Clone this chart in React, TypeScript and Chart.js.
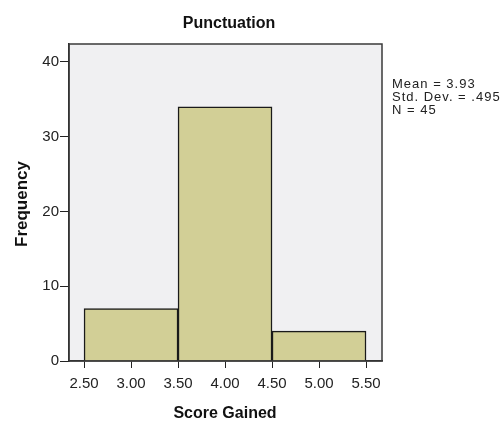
import React, { useEffect, useRef } from "react";
import { Chart, registerables } from "chart.js";

Chart.register(...registerables);

const binCenters = [3.0, 4.0, 5.0];
const frequencies = [7, 34, 4];
const xTickValues = [2.5, 3.0, 3.5, 4.0, 4.5, 5.0, 5.5];
const yTickValues = [0, 10, 20, 30, 40];
const statsLines = ["Mean = 3.93", "Std. Dev. = .495", "N = 45"];
const chartTitle = "Punctuation";
const xTitle = "Score Gained";
const yTitle = "Frequency";

const FONT = "'Liberation Sans', Arial, sans-serif";
const X_MIN = 2.34;
const X_MAX = 5.67;

const decorPlugin = {
  id: "decor",
  beforeDraw(chart: any) {
    const { ctx, chartArea: a } = chart;
    ctx.save();
    ctx.fillStyle = "#F0F0F2";
    ctx.fillRect(a.left, a.top, a.right - a.left, a.bottom - a.top);
    ctx.restore();
  },
  afterDraw(chart: any) {
    const { ctx, chartArea: a } = chart;
    ctx.save();
    ctx.strokeStyle = "#3a3a3a";
    ctx.lineWidth = 1.5;
    ctx.strokeRect(a.left, a.top, a.right - a.left, a.bottom - a.top);

    ctx.fillStyle = "#111";
    ctx.font = `bold 16px ${FONT}`;
    ctx.textAlign = "center";
    ctx.textBaseline = "middle";
    ctx.fillText(chartTitle, 229, 24);
    ctx.fillText(xTitle, 225, 414);

    ctx.save();
    ctx.font = `bold 17px ${FONT}`;
    ctx.translate(22, 204);
    ctx.rotate(-Math.PI / 2);
    ctx.fillText(yTitle, 0, 0);
    ctx.restore();

    ctx.font = `13px ${FONT}`;
    ctx.textAlign = "left";
    ctx.fillStyle = "#222";
    try {
      (ctx as any).letterSpacing = "1px";
    } catch (e) {}
    statsLines.forEach((s, i) => ctx.fillText(s, 392, 84 + i * 13));
    ctx.restore();
  },
};

export default function App() {
  const ref = useRef<HTMLCanvasElement>(null);
  useEffect(() => {
    if (!ref.current) return;
    const chart = new Chart(ref.current, {
      type: "bar",
      data: {
        datasets: [
          {
            data: binCenters.map((x, i) => ({ x, y: frequencies[i] })),
            backgroundColor: "#D2CF96",
            borderColor: "#1a1a1a",
            borderWidth: 1.5,
            barPercentage: 1,
            categoryPercentage: 1,
            xAxisID: "xb",
          } as any,
        ],
      },
      options: {
        animation: false,
        responsive: false,
        layout: { padding: { left: 0, top: 44, right: 120, bottom: 0 } },
        plugins: {
          legend: { display: false },
          tooltip: { enabled: false },
          title: { display: false },
        },
        scales: {
          xb: {
            type: "linear",
            display: false,
            position: "bottom",
            offset: false,
            min: X_MIN,
            max: X_MAX,
            afterBuildTicks: (s: any) => {
              s.ticks = [];
            },
          },
          x: {
            type: "linear",
            position: "bottom",
            offset: false,
            min: X_MIN,
            max: X_MAX,
            afterBuildTicks: (s: any) => {
              s.ticks = xTickValues.map((v) => ({ value: v }));
            },
            afterFit: (s: any) => {
              s.height = 62;
            },
            grid: {
              offset: false,
              drawOnChartArea: false,
              drawTicks: true,
              tickLength: 7,
              color: "#222",
            },
            border: { display: true, color: "#222", width: 1.5 },
            ticks: {
              color: "#222",
              font: { family: FONT, size: 15 },
              padding: 7,
              maxRotation: 0,
              autoSkip: false,
              callback: (v: any) => Number(v).toFixed(2),
            },
          },
          y: {
            type: "linear",
            min: 0,
            max: 42.4,
            afterBuildTicks: (s: any) => {
              s.ticks = yTickValues.map((v) => ({ value: v }));
            },
            afterFit: (s: any) => {
              s.width = 69;
            },
            grid: {
              drawOnChartArea: false,
              drawTicks: true,
              tickLength: 9,
              color: "#222",
            },
            border: { display: true, color: "#222", width: 1.5 },
            ticks: {
              color: "#222",
              font: { family: FONT, size: 15 },
              padding: 1,
              autoSkip: false,
            },
          },
        },
      },
      plugins: [decorPlugin],
    });
    return () => chart.destroy();
  }, []);
  return (
    <div style={{ position: "absolute", left: 0, top: 0, width: 502, height: 423, background: "#fff" }}>
      <canvas ref={ref} width={502} height={423} style={{ width: 502, height: 423 }} />
    </div>
  );
}
